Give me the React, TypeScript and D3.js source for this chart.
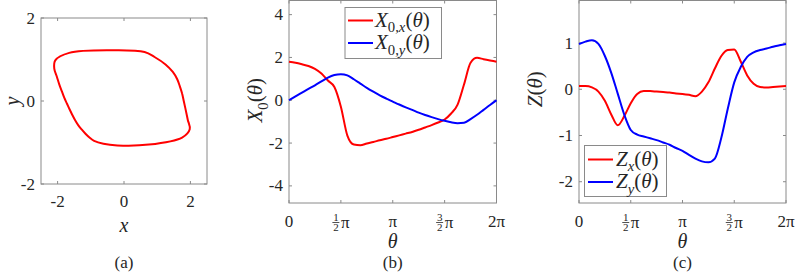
import React, { useEffect, useRef } from "react";
import * as d3 from "d3";

/* theta grid in units of pi/16 */
const thetaSteps = [0, 1, 2, 3, 4, 5, 6, 7, 8, 9, 10, 11, 12, 13, 14, 15, 16, 17, 18, 19, 20, 21, 22, 23, 24, 25, 26, 27, 28, 29, 30, 31, 32];

/* limit cycle components X_{0,x}, X_{0,y} (panel a uses them too) */
const x0x = [1.8, 1.75, 1.68, 1.6, 1.47, 1.25, 0.92, 0.62, -0.3, -1.65, -2.07, -2.1, -2.02, -1.95, -1.87, -1.8, -1.72, -1.64, -1.56, -1.48, -1.38, -1.27, -1.16, -1.04, -0.9, -0.62, -0.2, 0.75, 1.75, 1.98, 1.92, 1.86, 1.8];
const x0y = [0, 0.18, 0.36, 0.53, 0.7, 0.88, 1.06, 1.18, 1.22, 1.16, 0.98, 0.78, 0.58, 0.4, 0.23, 0.08, -0.06, -0.2, -0.33, -0.45, -0.58, -0.69, -0.79, -0.88, -0.96, -1.03, -1.07, -1.05, -0.88, -0.68, -0.45, -0.22, 0];

/* phase response Z_x, Z_y */
const zx = [0.07, 0.07, 0.04, -0.05, -0.25, -0.55, -0.78, -0.58, -0.3, -0.1, -0.04, -0.04, -0.05, -0.06, -0.07, -0.09, -0.1, -0.12, -0.15, -0.05, 0.15, 0.45, 0.72, 0.85, 0.86, 0.6, 0.3, 0.12, 0.05, 0.04, 0.05, 0.06, 0.07];
const zy = [0.98, 1.03, 1.06, 0.98, 0.72, 0.35, -0.1, -0.55, -0.88, -0.98, -1.02, -1.06, -1.1, -1.15, -1.2, -1.27, -1.33, -1.42, -1.5, -1.56, -1.58, -1.5, -1.05, -0.42, 0.15, 0.48, 0.7, 0.8, 0.85, 0.88, 0.92, 0.95, 0.98];

const aTicks = [-2, 0, 2];
const bYTicks = [-4, -2, 0, 2, 4];
const cYTicks = [-2, -1, 0, 1];
const piTicks = [0, 0.5, 1, 1.5, 2];

const FONT = "'Liberation Serif', 'Times New Roman', Times, serif";

const App = () => {
  const ref = useRef<SVGSVGElement>(null);

  useEffect(() => {
    const svg = d3.select(ref.current);
    svg.selectAll("*").remove();

    const boxColor = "#8a8a8a";
    const textColor = "#262626";
    const red = "#ff0000";
    const blue = "#0000ff";
    const tickSize = 17;
    const legendSize = 21;

    const theta = thetaSteps.map((k) => (k * Math.PI) / 16);

    const txt = (s: string, xx: number, yy: number, size: number, anchor = "middle") =>
      svg.append("text").attr("x", xx).attr("y", yy).attr("text-anchor", anchor)
        .style("font-family", FONT).style("font-size", `${size}px`).attr("fill", textColor).text(s);

    /* draws box, inward ticks on all four sides, numeric y labels */
    const frame = (x: any, y: any, xt: number[], yt: number[]) => {
      const [l, r] = x.range();
      const [b, t] = y.range();
      const g = svg.append("g");
      g.append("rect")
        .attr("x", l).attr("y", t)
        .attr("width", r - l).attr("height", b - t)
        .attr("fill", "none").attr("stroke", boxColor).attr("stroke-width", 1);
      xt.forEach((v) => {
        const px = x(v);
        g.append("line").attr("x1", px).attr("x2", px).attr("y1", b).attr("y2", b - 3).attr("stroke", boxColor);
        g.append("line").attr("x1", px).attr("x2", px).attr("y1", t).attr("y2", t + 3).attr("stroke", boxColor);
      });
      yt.forEach((v) => {
        const py = y(v);
        g.append("line").attr("x1", l).attr("x2", l + 3).attr("y1", py).attr("y2", py).attr("stroke", boxColor);
        g.append("line").attr("x1", r).attr("x2", r - 3).attr("y1", py).attr("y2", py).attr("stroke", boxColor);
        txt(String(v), l - 6, py + 5.5, tickSize, "end");
      });
      return g;
    };

    /* pi-fraction tick labels */
    const piLabels = (x: any, base: number) => {
      piTicks.forEach((v) => {
        const px = x(v * Math.PI);
        if (v === 0) txt("0", px, base, tickSize);
        else if (v === 1) txt("π", px, base, tickSize);
        else if (v === 2) txt("2π", px, base, tickSize);
        else {
          const fx = px - 5;
          txt(v === 0.5 ? "1" : "3", fx, base - 6.5, 11);
          svg.append("line").attr("x1", fx - 3.5).attr("x2", fx + 3.5)
            .attr("y1", base - 4.5).attr("y2", base - 4.5)
            .attr("stroke", textColor).attr("stroke-width", 0.8);
          txt("2", fx, base + 4, 11);
          txt("π", px, base + 1, tickSize, "start");
        }
      });
    };

    const mathText = (xx: number, yy: number, size: number, parts: [string, string][], anchor = "start", rotate = false) => {
      const t = svg.append("text")
        .attr("x", xx).attr("y", yy)
        .attr("text-anchor", anchor)
        .style("font-family", FONT).style("font-size", `${size}px`).attr("fill", textColor);
      if (rotate) t.attr("transform", `rotate(-90, ${xx}, ${yy})`);
      let shift = 0;
      parts.forEach(([s, style]) => {
        const sp = t.append("tspan").text(s);
        const sub = style.includes("sub");
        const want = sub ? size * 0.28 : 0;
        if (want !== shift) {
          sp.attr("dy", want - shift);
          shift = want;
        }
        if (sub) sp.style("font-size", `${size * 0.7}px`);
        if (style.includes("i")) sp.style("font-style", "italic");
      });
      return t;
    };

    const line = (x: any, y: any, xs: number[], ys: number[], color: string) =>
      svg.append("path")
        .datum(xs.map((v, i) => [v, ys[i]]))
        .attr("d", d3.line().x((d: any) => x(d[0])).y((d: any) => y(d[1])).curve(d3.curveMonotoneX) as any)
        .attr("fill", "none").attr("stroke", color).attr("stroke-width", 2);

    /* ---------- (a) ---------- */
    const ax = d3.scaleLinear().domain([-2.5, 2.5]).range([41, 207]);
    const ay = d3.scaleLinear().domain([-2, 2]).range([184, 18]);
    frame(ax, ay, aTicks, aTicks);
    aTicks.forEach((v) => txt(String(v), ax(v), 207, tickSize));
    const loop = x0x.slice(0, -1).map((v, i) => [v, x0y[i]]);
    svg.append("path")
      .datum(loop)
      .attr("d", d3.line().x((d: any) => ax(d[0])).y((d: any) => ay(d[1])).curve(d3.curveCatmullRomClosed.alpha(0.5)) as any)
      .attr("fill", "none").attr("stroke", red).attr("stroke-width", 2);
    mathText(ax(0), 232, 20, [["x", "i"]], "middle");
    mathText(19, ay(0), 20, [["y", "i"]], "middle", true);
    txt("(a)", ax(0), 268, 17);

    /* ---------- (b) ---------- */
    const bx = d3.scaleLinear().domain([0, 2 * Math.PI]).range([289, 496.5]);
    const by = d3.scaleLinear().domain([-4.8, 4.66]).range([203, 0.5]);
    frame(bx, by, piTicks.map((v) => v * Math.PI), bYTicks);
    piLabels(bx, 227);
    line(bx, by, theta, x0x, red);
    line(bx, by, theta, x0y, blue);
    mathText(bx(Math.PI), 248, 20, [["θ", "i"]], "middle");
    txt("(b)", bx(Math.PI), 268, 17);
    mathText(262, by(0), 21, [["X", "i"], ["0", "sub"], ["(", ""], ["θ", "i"], [")", ""]], "middle", true);

    const lb = svg.append("g");
    lb.append("rect").attr("x", 345).attr("y", 7.5).attr("width", 96.5).attr("height", 51)
      .attr("fill", "white").attr("stroke", boxColor);
    [[red, "x"], [blue, "y"]].forEach(([c, s], i) => {
      const yy = 20.5 + i * 22.5;
      lb.append("line").attr("x1", 348).attr("x2", 373).attr("y1", yy).attr("y2", yy)
        .attr("stroke", c).attr("stroke-width", 2);
      mathText(375, yy + 6, legendSize, [["X", "i"], ["0,", "sub"], [s, "sub i"], ["(", ""], ["θ", "i"], [")", ""]]);
    });

    /* ---------- (c) ---------- */
    const cx = d3.scaleLinear().domain([0, 2 * Math.PI]).range([579, 786]);
    const cy = d3.scaleLinear().domain([-2.46, 1.92]).range([203, 0.5]);
    frame(cx, cy, piTicks.map((v) => v * Math.PI), cYTicks);
    piLabels(cx, 227);
    line(cx, cy, theta, zx, red);
    line(cx, cy, theta, zy, blue);
    mathText(cx(Math.PI), 248, 20, [["θ", "i"]], "middle");
    txt("(c)", cx(Math.PI), 268, 17);
    mathText(542, cy(0), 21, [["Z", "i"], ["(", ""], ["θ", "i"], [")", ""]], "middle", true);

    const lc = svg.append("g");
    lc.append("rect").attr("x", 584.5).attr("y", 145.5).attr("width", 82).attr("height", 51)
      .attr("fill", "white").attr("stroke", boxColor);
    [[red, "x"], [blue, "y"]].forEach(([c, s], i) => {
      const yy = 159.5 + i * 22.5;
      lc.append("line").attr("x1", 588).attr("x2", 613).attr("y1", yy).attr("y2", yy)
        .attr("stroke", c).attr("stroke-width", 2);
      mathText(616, yy + 6, legendSize, [["Z", "i"], [s, "sub i"], ["(", ""], ["θ", "i"], [")", ""]]);
    });
  }, []);

  return (
    <div style={{ position: "absolute", left: 0, top: 0 }}>
      <svg ref={ref} width={797} height={273} style={{ display: "block", background: "white", fontFamily: FONT }} />
    </div>
  );
};

export default App;
